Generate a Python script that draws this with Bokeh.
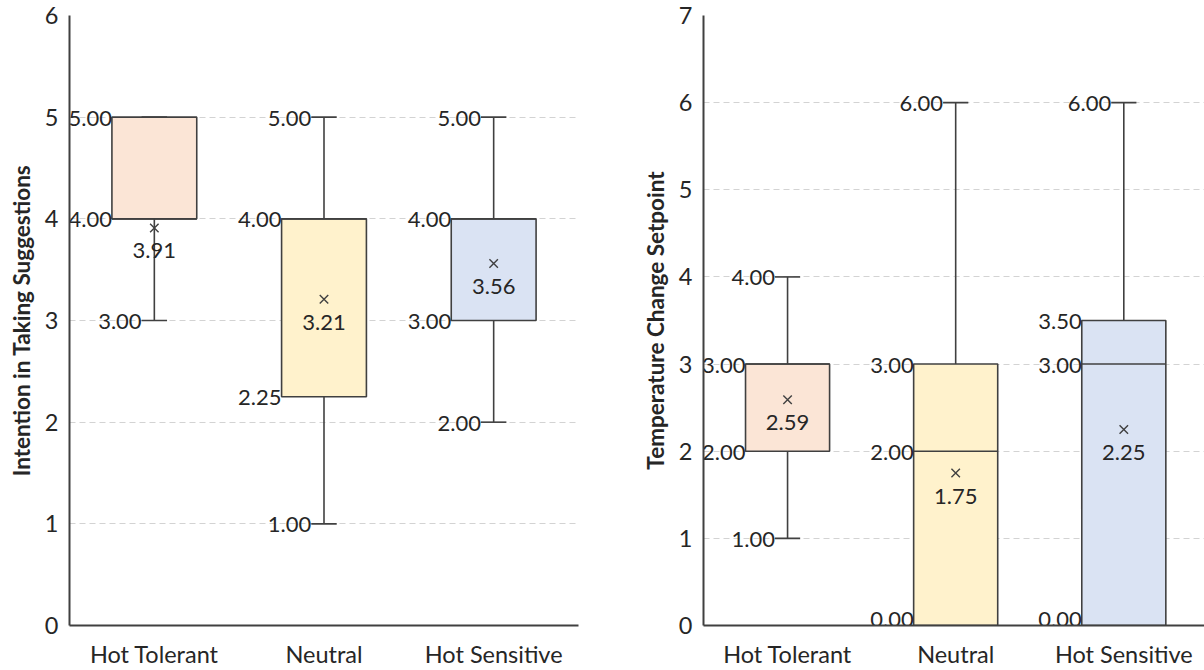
from bokeh.plotting import figure
from bokeh.models import ColumnDataSource, FixedTicker, Range1d
from bokeh.layouts import row
from bokeh.core.properties import value
from bokeh.embed import file_html
from bokeh.resources import INLINE

# ---------------- data ----------------
categories = ["Hot Tolerant", "Neutral", "Hot Sensitive"]
box_colors = ["#FBE5D6", "#FFF2CC", "#DAE3F3"]

# Intention in Taking Suggestions
int_min = [3.00, 1.00, 2.00]
int_q1 = [4.00, 2.25, 3.00]
int_median = [4.00, 4.00, 4.00]
int_q3 = [5.00, 4.00, 4.00]
int_max = [5.00, 5.00, 5.00]
int_mean = [3.91, 3.21, 3.56]

# Temperature Change Setpoint
tmp_min = [1.00, 0.00, 0.00]
tmp_q1 = [2.00, 0.00, 0.00]
tmp_median = [3.00, 2.00, 3.00]
tmp_q3 = [3.00, 3.00, 3.50]
tmp_max = [4.00, 6.00, 6.00]
tmp_mean = [2.59, 1.75, 2.25]

FONT = "Lato"
FS = "23.5px"
LFS = "22px"
DARK = "#404040"
TXT = "#262626"
BOX_W = 0.5
CAP_W = 0.15


def make_panel(ytitle, vmin, q1, med, q3, vmax, mean, ymax, width,
               border_left, border_right, xend):
    p = figure(width=width, height=670,
               x_range=Range1d(-0.5, xend), y_range=Range1d(0, ymax),
               output_backend="svg", toolbar_location=None,
               min_border_left=border_left, min_border_right=border_right,
               min_border_top=15, min_border_bottom=45)
    p.outline_line_color = None
    p.background_fill_color = "white"
    p.border_fill_color = "white"
    p.xgrid.visible = False
    p.ygrid.grid_line_color = "#D3D3D3"
    p.ygrid.grid_line_dash = "6 4"
    p.ygrid.grid_line_width = 1

    p.yaxis.ticker = FixedTicker(ticks=list(range(0, ymax + 1)))
    p.xaxis.ticker = FixedTicker(ticks=list(range(len(categories))))
    p.xaxis.major_label_overrides = {i: c for i, c in enumerate(categories)}
    for ax in (p.xaxis, p.yaxis):
        ax.axis_line_color = DARK
        ax.axis_line_width = 2
        ax.major_tick_line_color = None
        ax.minor_tick_line_color = None
        ax.major_tick_out = 0
        ax.major_tick_in = 0
        ax.minor_tick_out = 0
        ax.minor_tick_in = 0
        ax.major_label_text_font = FONT
        ax.major_label_text_font_size = FS
        ax.major_label_text_color = TXT
    p.yaxis.major_label_standoff = 11
    p.xaxis.major_label_standoff = 14
    p.yaxis.axis_label = ytitle
    p.yaxis.axis_label_text_font = FONT
    p.yaxis.axis_label_text_font_style = "bold"
    p.yaxis.axis_label_text_font_size = "22.5px"
    p.yaxis.axis_label_text_color = TXT
    p.yaxis.axis_label_standoff = 7

    xs = list(range(len(categories)))
    src = ColumnDataSource(dict(
        x=xs, vmin=vmin, q1=q1, med=med, q3=q3, vmax=vmax, mean=mean,
        color=box_colors,
        cap_l=[x - CAP_W / 2 for x in xs], cap_r=[x + CAP_W / 2 for x in xs],
        box_l=[x - BOX_W / 2 for x in xs], box_r=[x + BOX_W / 2 for x in xs],
        mean_txt=["%.2f" % m for m in mean],
    ))

    # whiskers
    p.segment(x0="x", y0="q3", x1="x", y1="vmax", source=src,
              line_color=DARK, line_width=1.6)
    p.segment(x0="x", y0="q1", x1="x", y1="vmin", source=src,
              line_color=DARK, line_width=1.6)
    p.segment(x0="cap_l", y0="vmax", x1="cap_r", y1="vmax", source=src,
              line_color=DARK, line_width=1.6)
    p.segment(x0="cap_l", y0="vmin", x1="cap_r", y1="vmin", source=src,
              line_color=DARK, line_width=1.6)
    # boxes
    p.vbar(x="x", width=BOX_W, bottom="q1", top="q3", source=src,
           fill_color="color", line_color=DARK, line_width=1.6)
    # medians
    p.segment(x0="box_l", y0="med", x1="box_r", y1="med", source=src,
              line_color=DARK, line_width=1.6)
    # means
    p.scatter(x="x", y="mean", source=src, marker="x", size=12,
              line_color=DARK, line_width=1.4)
    p.text(x="x", y="mean", text="mean_txt", source=src,
           text_font=value(FONT), text_font_size=LFS, text_color=TXT,
           text_align="center", text_baseline="middle", y_offset=23)

    # value labels
    lx, ly, lt, lbase = [], [], [], []
    for i, x in enumerate(xs):
        seen = set()
        for v in (vmin[i], q1[i], med[i], q3[i], vmax[i]):
            if v in seen:
                continue
            seen.add(v)
            on_box = v in (q1[i], med[i], q3[i])
            lx.append(x - BOX_W / 2 if on_box else x - CAP_W / 2)
            ly.append(v)
            lt.append("%.2f" % v)
            lbase.append("bottom" if v == 0 else "middle")
    lsrc = ColumnDataSource(dict(x=lx, y=ly, t=lt, b=lbase))
    p.text(x="x", y="y", text="t", source=lsrc, text_font=value(FONT),
           text_font_size=LFS, text_color=TXT, text_align="right",
           text_baseline="b", y_offset=1)
    return p


p1 = make_panel("Intention in Taking Suggestions", int_min, int_q1, int_median,
                int_q3, int_max, int_mean, 6, 600, 69, 22, 2.5)
p2 = make_panel("Temperature Change Setpoint", tmp_min, tmp_q1, tmp_median,
                tmp_q3, tmp_max, tmp_mean, 7, 604, 103, 0, 2.48)

layout = row(p1, p2)
open("out.html", "w").write(file_html(layout, INLINE))
